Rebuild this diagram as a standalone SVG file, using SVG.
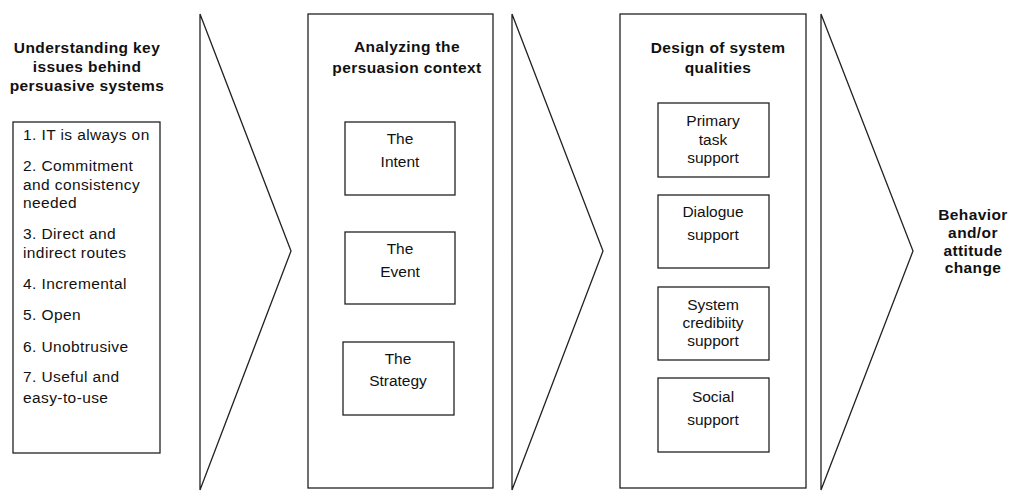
<svg xmlns="http://www.w3.org/2000/svg" width="1020" height="497" viewBox="0 0 1020 497">
<style>
.box{fill:#fff;stroke:#222;stroke-width:1.3}
.arr{fill:#fff;stroke:#222;stroke-width:1.3;stroke-linejoin:miter}
.h{font-family:"Liberation Sans",Arial,sans-serif;font-weight:bold;font-size:15.5px;fill:#111;text-anchor:middle;letter-spacing:0.4px}
.t{font-family:"Liberation Sans",Arial,sans-serif;font-size:15.5px;fill:#111;text-anchor:middle}
.l{font-family:"Liberation Sans",Arial,sans-serif;font-size:15.5px;fill:#111;letter-spacing:0.4px}
</style>
<rect width="1020" height="497" fill="#fff"/>
<g id="connectors">
<polygon class="arr" points="200,14 291,251 200,490"/>
<polygon class="arr" points="512,14 603,251 512,490"/>
<polygon class="arr" points="821,14 913,251 821,490"/>
</g>
<g id="key-issues">
<text class="h" x="87" y="53">Understanding key</text>
<text class="h" x="87" y="72">issues behind</text>
<text class="h" x="87" y="91">persuasive systems</text>
<rect class="box" x="13" y="122" width="147" height="331"/>
<text class="l" x="23" y="140">1. IT is always on</text>
<text class="l" x="23" y="171">2. Commitment</text>
<text class="l" x="23" y="190">and consistency</text>
<text class="l" x="23" y="208">needed</text>
<text class="l" x="23" y="239">3. Direct and</text>
<text class="l" x="23" y="258">indirect routes</text>
<text class="l" x="23" y="289">4. Incremental</text>
<text class="l" x="23" y="320">5. Open</text>
<text class="l" x="23" y="352">6. Unobtrusive</text>
<text class="l" x="23" y="382">7. Useful and</text>
<text class="l" x="23" y="403">easy-to-use</text>
</g>
<g id="persuasion-context">
<rect class="box" x="308" y="14" width="185" height="474"/>
<text class="h" x="407" y="52">Analyzing the</text>
<text class="h" x="407" y="73">persuasion context</text>
</g>
<g id="intent">
<rect class="box" x="345" y="122" width="110" height="73"/>
<text class="t" x="400" y="144">The</text>
<text class="t" x="400" y="167">Intent</text>
</g>
<g id="event">
<rect class="box" x="345" y="232" width="110" height="72"/>
<text class="t" x="400" y="254">The</text>
<text class="t" x="400" y="277">Event</text>
</g>
<g id="strategy">
<rect class="box" x="343" y="342" width="111" height="73"/>
<text class="t" x="398" y="364">The</text>
<text class="t" x="398" y="386">Strategy</text>
</g>
<g id="system-qualities">
<rect class="box" x="620" y="14" width="186" height="474"/>
<text class="h" x="718" y="53">Design of system</text>
<text class="h" x="718" y="73">qualities</text>
</g>
<g id="primary-task">
<rect class="box" x="658" y="103" width="111" height="74"/>
<text class="t" x="713" y="126">Primary</text>
<text class="t" x="713" y="145">task</text>
<text class="t" x="713" y="163">support</text>
</g>
<g id="dialogue">
<rect class="box" x="658" y="195" width="111" height="73"/>
<text class="t" x="713" y="217">Dialogue</text>
<text class="t" x="713" y="240">support</text>
</g>
<g id="credibility">
<rect class="box" x="658" y="287" width="111" height="73"/>
<text class="t" x="713" y="310">System</text>
<text class="t" x="713" y="328">credibiity</text>
<text class="t" x="713" y="346">support</text>
</g>
<g id="social">
<rect class="box" x="658" y="378" width="111" height="74"/>
<text class="t" x="713" y="402">Social</text>
<text class="t" x="713" y="425">support</text>
</g>
<g id="outcome">
<text class="h" x="973" y="220">Behavior</text>
<text class="h" x="973" y="238">and/or</text>
<text class="h" x="973" y="256">attitude</text>
<text class="h" x="973" y="273">change</text>
</g>
</svg>
